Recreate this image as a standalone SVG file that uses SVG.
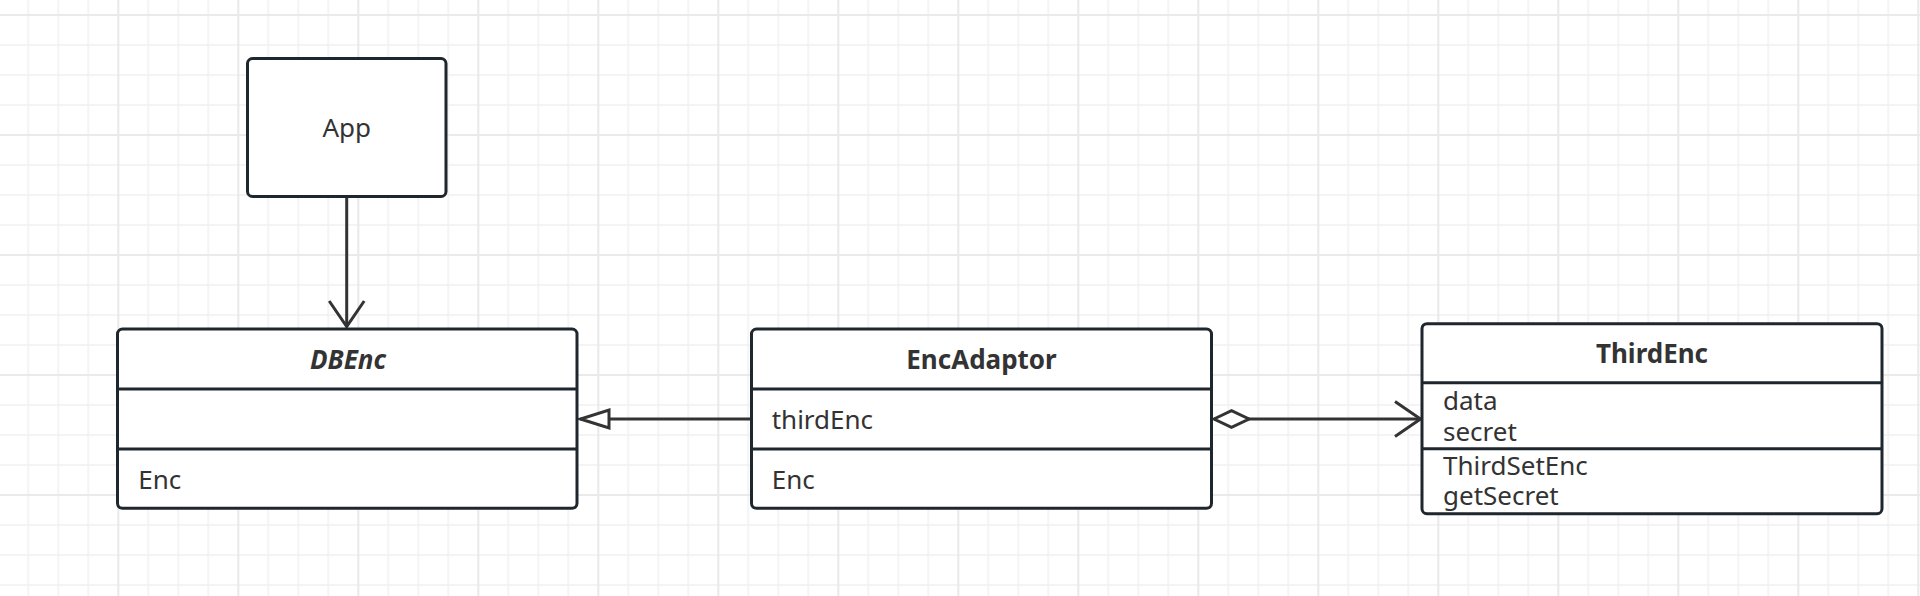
<svg xmlns="http://www.w3.org/2000/svg" width="1920" height="596" viewBox="0 0 1920 596">
  <defs>
    <pattern id="gMinor" width="30" height="30" patternUnits="userSpaceOnUse" x="13.3" y="0">
      <path d="M15 0 V30 M0 15 H30" stroke="#f1f1f1" stroke-width="1.5" fill="none"/>
    </pattern>
    <pattern id="gMajor" width="120" height="120" patternUnits="userSpaceOnUse" x="58.3" y="-45">
      <path d="M60 0 V120 M0 60 H120" stroke="#e8e8e8" stroke-width="1.5" fill="none"/>
    </pattern>
    <marker id="openArrow" markerUnits="userSpaceOnUse" markerWidth="60" markerHeight="60" refX="0" refY="0" viewBox="-30 -30 60 60" orient="auto" overflow="visible">
      <path d="M-25.5 -17.5 L0 0 L-25.5 17.5" fill="none" stroke="#333" stroke-width="3" stroke-linejoin="miter" stroke-linecap="butt"/>
    </marker>
    <marker id="hollowTri" markerUnits="userSpaceOnUse" markerWidth="60" markerHeight="60" refX="0" refY="0" viewBox="-30 -30 60 60" orient="auto" overflow="visible">
      <path d="M0 0 L-28.5 -9 L-28.5 9 Z" fill="#fff" stroke="#333" stroke-width="3" stroke-linejoin="miter"/>
    </marker>
    <marker id="hollowDiamond" markerUnits="userSpaceOnUse" markerWidth="60" markerHeight="60" refX="0" refY="0" viewBox="-30 -30 60 60" orient="auto" overflow="visible">
      <path d="M0 0 L17.5 -8.3 L35 0 L17.5 8.3 Z" fill="#fff" stroke="#333" stroke-width="3" stroke-linejoin="miter"/>
    </marker>
  </defs>
  <style>
    .box { fill: #fff; stroke: #1f272e; stroke-width: 3; }
    .div { stroke: #1f272e; stroke-width: 3; fill: none; }
    .conn { stroke: #333; stroke-width: 3; fill: none; }
    .t { font-family: "Noto Sans", "Open Sans", sans-serif; font-size: 26px; fill: #333; }
    .title { font-weight: bold; text-anchor: middle; }
    .mid { text-anchor: middle; }
  </style>

  <rect x="0" y="0" width="1920" height="596" fill="#fff"/>
  <rect x="0" y="0" width="1920" height="596" fill="url(#gMinor)"/>
  <rect x="0" y="0" width="1920" height="596" fill="url(#gMajor)"/>

  <g id="connectors">
    <path class="conn" d="M346.7 197 L346.7 326.5" marker-end="url(#openArrow)"/>
    <path class="conn" d="M751.5 419 L580.5 419" marker-end="url(#hollowTri)"/>
    <path class="conn" d="M1214 419 L1420.5 419" marker-start="url(#hollowDiamond)" marker-end="url(#openArrow)"/>
  </g>

  <g id="App">
    <rect class="box" x="247.5" y="58.5" width="198.5" height="138" rx="5" ry="5"/>
    <text class="t mid" x="346.7" y="137.3">App</text>
  </g>

  <g id="DBEnc">
    <rect class="box" x="117.5" y="329" width="459.5" height="179.3" rx="5" ry="5"/>
    <line class="div" x1="117.5" y1="389" x2="577" y2="389"/>
    <line class="div" x1="117.5" y1="449" x2="577" y2="449"/>
    <text class="t title" x="348" y="369" font-style="italic">DBEnc</text>
    <text class="t" x="138.3" y="489">Enc</text>
  </g>

  <g id="EncAdaptor">
    <rect class="box" x="751.5" y="329" width="460" height="179.3" rx="5" ry="5"/>
    <line class="div" x1="751.5" y1="389" x2="1211.5" y2="389"/>
    <line class="div" x1="751.5" y1="449" x2="1211.5" y2="449"/>
    <text class="t title" x="981.5" y="369">EncAdaptor</text>
    <text class="t" x="771.7" y="429">thirdEnc</text>
    <text class="t" x="771.7" y="489">Enc</text>
  </g>

  <g id="ThirdEnc">
    <rect class="box" x="1422" y="323.7" width="460" height="190" rx="5" ry="5"/>
    <line class="div" x1="1422" y1="382.7" x2="1882" y2="382.7"/>
    <line class="div" x1="1422" y1="448.7" x2="1882" y2="448.7"/>
    <text class="t title" x="1652" y="363.3">ThirdEnc</text>
    <text class="t" x="1443" y="410">data</text>
    <text class="t" x="1443" y="441">secret</text>
    <text class="t" x="1443" y="475">ThirdSetEnc</text>
    <text class="t" x="1443" y="505">getSecret</text>
  </g>
</svg>
